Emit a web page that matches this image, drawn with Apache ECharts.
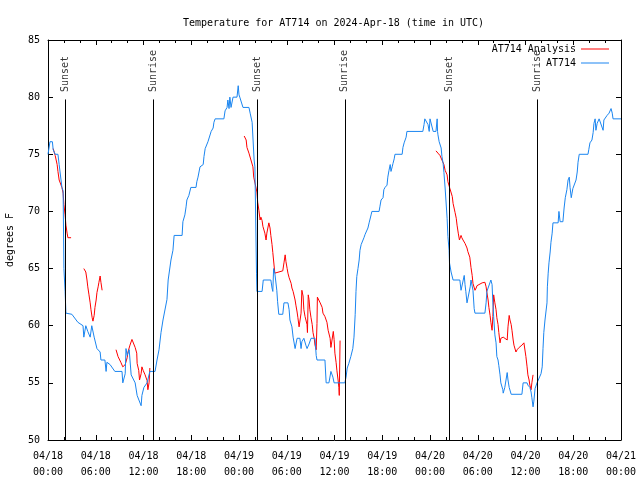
<!DOCTYPE html>
<html>
<head>
<meta charset="utf-8">
<script src="https://cdn.jsdelivr.net/npm/echarts@6/dist/echarts.min.js"></script>
<style>html,body{margin:0;padding:0;background:#fff}#c{width:640px;height:480px}</style>
</head>
<body>
<div id="c"></div>
<script>
// hours after 2024-04-18 00:00 UTC
const xTickLabels = ['04/18\n00:00','04/18\n06:00','04/18\n12:00','04/18\n18:00','04/19\n00:00','04/19\n06:00','04/19\n12:00','04/19\n18:00','04/20\n00:00','04/20\n06:00','04/20\n12:00','04/20\n18:00','04/21\n00:00'];
const sunHours = [2.14, 13.2, 26.26, 37.3, 50.4, 61.45];
const sunNames = ['Sunset','Sunrise','Sunset','Sunrise','Sunset','Sunrise'];

const blueHours = [0.0,0.25,0.55,0.65,0.9,1.25,1.4,1.6,1.75,1.9,2.0,2.15,2.25,3.0,3.15,3.75,4.4,4.5,4.75,5.0,5.3,5.5,5.8,6.15,6.55,6.65,7.15,7.3,7.4,7.8,8.4,9.3,9.4,9.7,9.8,9.95,10.2,10.45,10.95,11.2,11.45,11.7,11.8,12.05,12.45,12.8,13.45,13.7,13.95,14.2,14.45,14.95,15.1,15.45,15.7,15.85,16.85,16.95,17.2,17.35,17.45,17.7,17.95,18.6,18.7,18.85,19.1,19.5,19.6,19.75,20.1,20.5,20.75,20.85,21.0,22.1,22.25,22.5,22.6,22.75,22.85,23.0,23.25,23.75,23.9,24.0,24.1,24.5,25.25,25.4,25.65,25.9,26.0,26.2,26.25,26.9,27.05,28.0,28.15,28.25,28.35,28.5,28.75,28.85,29.0,29.5,29.65,30.15,30.3,30.4,30.65,30.8,31.05,31.3,31.65,31.8,31.9,32.15,32.4,32.55,32.8,33.05,33.55,33.7,33.8,34.8,34.95,35.3,35.55,35.7,35.8,35.95,37.3,37.45,37.6,37.8,38.05,38.3,38.45,38.6,38.7,38.8,38.95,39.1,39.2,39.35,39.6,39.7,39.85,40.1,40.2,40.35,40.6,40.7,41.6,41.7,41.85,42.1,42.2,42.35,42.6,42.7,42.85,43.0,43.1,43.25,43.35,43.5,43.6,44.5,44.6,44.75,45.0,45.1,47.1,47.25,47.35,47.6,47.75,47.9,48.0,48.25,48.4,48.75,48.9,48.95,49.0,49.15,49.4,49.5,49.65,49.75,49.9,50.0,50.15,50.25,50.4,50.45,50.65,50.9,51.75,51.9,52.0,52.15,52.3,52.4,52.5,52.65,52.9,53.05,53.15,53.4,53.55,53.65,54.9,55.05,55.15,55.4,55.65,55.8,55.9,56.0,56.15,56.3,56.4,56.55,56.65,56.8,56.9,57.15,57.2,57.4,57.55,57.7,57.8,57.95,58.2,59.55,59.7,60.2,60.3,60.55,60.7,60.8,60.95,61.05,61.2,61.45,61.7,61.95,62.1,62.2,62.3,62.45,62.7,62.75,62.85,62.95,63.1,63.2,63.35,63.45,64.1,64.2,64.35,64.7,64.85,65.0,65.2,65.35,65.5,65.6,65.75,65.85,65.95,66.2,66.35,66.5,66.6,66.75,67.85,67.95,68.1,68.35,68.5,68.6,68.75,68.85,69.0,69.25,69.5,69.75,69.85,70.1,70.25,70.5,70.75,70.9,71.0,72.0];
const blueTemps = [75.0,76.1,76.1,75.4,75.0,75.0,74.1,74.1,72.1,71.8,65.0,63.0,61.1,61.0,60.9,60.3,60.0,59.0,60.0,59.5,59.0,60.0,59.0,58.0,57.7,57.0,57.0,56.0,56.8,56.6,56.0,56.0,55.0,55.8,58.0,57.4,57.9,55.7,55.0,53.9,53.9,53.0,53.9,54.6,55.0,56.0,56.0,57.0,57.9,59.4,60.5,62.3,64.0,65.75,66.6,67.9,67.9,69.1,69.7,70.4,71.0,71.4,72.1,72.1,72.6,73.0,73.9,74.1,74.8,75.5,76.1,77.0,77.3,77.8,78.1,78.1,78.8,79.1,79.75,79.0,80.0,79.1,80.0,80.0,81.0,80.2,80.0,79.1,79.1,78.6,77.8,74.5,73.9,64.6,63.0,63.0,64.0,64.0,63.3,63.0,65.0,64.6,63.1,62.1,61.0,61.0,62.0,62.0,61.4,60.5,59.9,59.0,58.0,58.9,58.9,58.0,58.6,58.9,58.3,58.0,58.4,58.9,58.9,57.4,57.0,57.0,55.0,55.0,56.0,56.0,55.5,55.0,55.0,55.5,56.3,56.7,57.3,58.0,59.0,61.0,63.0,64.3,65.0,65.75,66.6,67.1,67.1,67.7,68.0,68.0,68.55,69.0,69.7,70.0,70.0,70.4,71.0,71.2,71.9,72.1,72.3,73.0,73.6,74.1,73.5,73.9,74.2,74.6,75.0,75.0,75.6,76.0,76.5,77.0,77.0,77.6,78.1,78.1,77.6,77.0,78.1,78.1,77.0,77.0,78.1,77.0,76.7,76.1,75.55,74.8,74.2,73.4,72.05,71.0,69.4,67.8,66.6,65.5,64.7,64.0,64.0,63.1,62.95,62.95,64.4,63.6,63.0,62.0,62.0,63.4,64.0,63.1,61.5,61.1,61.1,62.0,63.0,63.0,64.0,63.6,62.0,60.8,59.2,58.5,57.3,57.0,56.5,55.7,55.0,54.4,54.1,54.6,55.25,55.9,55.25,54.6,54.0,54.0,55.0,55.0,54.8,54.6,54.2,53.7,52.9,53.4,54.5,55.0,55.0,55.8,56.4,58.0,59.4,60.5,62.0,63.4,64.6,65.5,66.45,67.3,68.1,69.0,69.0,70.0,69.1,69.1,70.3,71.2,71.9,72.75,73.0,72.1,71.2,71.6,72.0,72.0,72.75,73.45,74.3,75.0,75.0,75.4,76.0,76.25,76.9,77.7,78.1,77.1,77.7,78.1,78.1,77.1,78.0,78.1,78.4,78.6,79.0,78.6,78.1,78.1];

// null = gap in the analysis series
const redHours = [0.65,0.9,1.15,1.25,1.4,1.6,1.75,1.9,2.0,2.15,2.25,2.4,2.5,2.9,
  3.5,
  4.5,4.75,4.9,5.0,5.15,5.3,5.4,5.55,5.65,5.8,5.9,6.05,6.15,6.3,6.4,6.55,6.65,6.8,
  7.5,
  8.55,8.8,9.15,9.4,9.7,9.95,10.05,10.3,10.55,10.8,10.95,11.15,11.2,11.4,11.5,11.7,11.8,11.95,12.2,12.45,12.55,12.7,12.8,
  18.0,
  24.65,24.9,25.0,25.25,25.5,25.75,25.85,26.0,26.25,26.35,26.5,26.65,26.75,26.9,27.0,27.25,27.4,27.5,27.75,27.9,28.0,28.15,28.25,28.5,28.75,29.5,29.65,29.8,29.9,30.05,30.15,30.3,30.55,30.65,30.8,31.05,31.15,31.3,31.4,31.55,31.65,31.8,31.9,32.05,32.15,32.3,32.55,32.6,32.7,32.8,32.9,33.05,33.2,33.3,33.45,33.55,33.7,33.8,33.85,34.2,34.45,34.55,34.8,35.05,35.2,35.45,35.55,35.8,35.85,35.95,36.05,36.2,36.3,36.45,36.55,36.6,36.7,
  42.0,
  48.75,49.0,49.25,49.5,49.75,49.9,50.15,50.25,50.5,50.8,50.9,51.15,51.3,51.4,51.55,51.7,51.9,52.0,52.15,52.4,52.65,52.75,53.0,53.15,53.3,53.4,53.65,53.8,53.9,54.15,54.55,54.9,55.05,55.15,55.3,55.4,55.55,55.65,55.8,55.9,56.0,56.15,56.3,56.4,56.55,56.65,56.8,56.9,57.2,57.4,57.7,57.8,57.95,58.05,58.2,58.3,58.45,58.55,58.8,58.95,59.2,59.55,59.8,59.95,60.05,60.2,60.3,60.45,60.55,60.7,60.8,60.95];
const redTemps = [75.5,74.9,74.1,73.5,72.75,72.7,72.1,71.6,70.6,69.7,68.8,68.1,67.7,67.7,
  null,
  65.0,64.7,64.0,63.4,62.7,62.0,61.4,60.7,60.4,60.9,61.6,62.25,62.9,63.4,63.8,64.35,63.8,63.1,
  null,
  57.9,57.3,56.8,56.4,56.6,57.2,57.7,58.3,58.8,58.9,58.1,57.6,56.7,56.1,55.25,55.8,56.4,56.1,55.7,55.2,54.4,55.0,56.3,
  null,
  76.6,76.25,75.6,75.1,74.5,73.9,73.0,72.9,71.7,70.8,70.1,69.25,69.5,69.2,68.7,68.1,67.5,68.1,69.0,68.55,67.9,67.1,66.4,64.6,64.7,64.8,65.5,66.2,65.6,65.0,64.6,64.2,63.7,63.3,63.0,62.25,61.8,61.2,60.7,59.9,59.8,61.1,63.1,62.6,61.4,60.8,60.1,59.4,62.7,62.3,61.4,60.7,60.1,59.4,58.9,58.3,57.9,60.2,62.5,62.0,61.6,61.1,60.8,60.3,59.6,58.9,58.1,58.0,59.5,58.8,57.6,56.8,56.1,55.25,54.6,53.9,58.7,
  null,
  75.3,75.1,74.9,74.5,74.1,73.6,73.2,72.6,72.0,71.3,70.7,69.9,69.4,68.8,68.1,67.5,67.9,67.7,67.5,67.2,66.8,66.5,66.0,65.1,64.4,63.7,63.1,63.3,63.5,63.65,63.75,63.8,63.4,62.9,62.25,61.6,60.9,60.3,59.6,60.8,62.7,62.0,61.4,60.7,60.1,59.4,58.5,58.9,59.0,58.9,58.75,59.9,60.9,60.5,60.1,59.6,58.75,58.3,57.7,57.9,58.1,58.3,58.5,58.4,57.3,56.4,55.7,55.25,54.8,54.4,55.0,55.7];

const MONO = '"DejaVu Sans Mono", "Liberation Mono", monospace';
const chart = echarts.init(document.getElementById('c'), null, {renderer: 'canvas'});

const blueData = blueHours.map((h, i) => [h, blueTemps[i]]);
const redData = redHours.map((h, i) => [h, redTemps[i] === null ? null : redTemps[i]]);

const axisLineStyle = {color: '#000', width: 1};
function xAxisCfg(pos, showLabel) {
  return {
    type: 'value', position: pos, min: 0, max: 72, interval: 6,
    axisLine: {show: true, onZero: false, lineStyle: axisLineStyle},
    axisTick: {show: true, inside: true, length: 5, lineStyle: axisLineStyle},
    minorTick: {show: true, splitNumber: 3, length: 3, lineStyle: axisLineStyle},
    splitLine: {show: false},
    axisLabel: {
      show: showLabel, margin: 8, color: '#000', fontFamily: MONO, fontSize: 10, lineHeight: 16,
      formatter: v => xTickLabels[Math.round(v / 6)]
    }
  };
}
function yAxisCfg(pos, showLabel) {
  const c = {
    type: 'value', position: pos, min: 50, max: 85, interval: 5,
    axisLine: {show: true, onZero: false, lineStyle: axisLineStyle},
    axisTick: {show: true, inside: true, length: 5, lineStyle: axisLineStyle},
    splitLine: {show: false},
    axisLabel: {show: showLabel, margin: 8, color: '#000', fontFamily: MONO, fontSize: 10}
  };
  if (showLabel) {
    c.name = 'degrees F';
    c.nameLocation = 'middle';
    c.nameGap = 33;
    c.nameTextStyle = {color: '#000', fontFamily: MONO, fontSize: 10};
  }
  return c;
}

chart.setOption({
  animation: false,
  backgroundColor: '#fff',
  title: {
    text: 'Temperature for AT714 on 2024-Apr-18 (time in UTC)',
    left: 178, top: 13,
    textStyle: {color: '#000', fontFamily: MONO, fontSize: 10, fontWeight: 'normal'}
  },
  legend: [
    {data: ['AT714 Analysis'], right: 26, top: 39, align: 'right', icon: 'rect', itemWidth: 28, itemHeight: 1,
     textStyle: {color: '#000', fontFamily: MONO, fontSize: 10}},
    {data: ['AT714'], right: 26, top: 53, align: 'right', icon: 'rect', itemWidth: 28, itemHeight: 1,
     textStyle: {color: '#000', fontFamily: MONO, fontSize: 10}}
  ],
  grid: {left: 48, right: 19, top: 40, bottom: 40, containLabel: false, outerBoundsMode: 'none'},
  xAxis: [xAxisCfg('bottom', true), xAxisCfg('top', false)],
  yAxis: [yAxisCfg('left', true), yAxisCfg('right', false)],
  series: [
    {
      name: 'AT714 Analysis', type: 'line', xAxisIndex: 0, yAxisIndex: 0,
      data: redData, showSymbol: false, symbol: 'none', connectNulls: false,
      color: '#ff0000', lineStyle: {color: '#ff0000', width: 1}
    },
    {
      name: 'AT714', type: 'line', xAxisIndex: 0, yAxisIndex: 0,
      data: blueData, showSymbol: false, symbol: 'none',
      color: '#1a85f0', lineStyle: {color: '#1a85f0', width: 1}
    },
    {
      name: 'sun', type: 'scatter', xAxisIndex: 0, yAxisIndex: 0, silent: true,
      data: sunHours.map(h => [h, 80.45]), symbolSize: 0,
      label: {
        show: true, position: 'inside', rotate: 90, align: 'left', verticalAlign: 'middle',
        color: '#000', fontFamily: MONO, fontSize: 10,
        formatter: p => sunNames[p.dataIndex]
      },
      markLine: {
        silent: true, symbol: ['none', 'none'], animation: false,
        label: {show: false},
        lineStyle: {color: '#000', width: 1, type: 'solid'},
        data: sunHours.map(h => [{coord: [h, 50]}, {coord: [h, 79.8]}])
      }
    }
  ]
});
</script>
</body>
</html>
